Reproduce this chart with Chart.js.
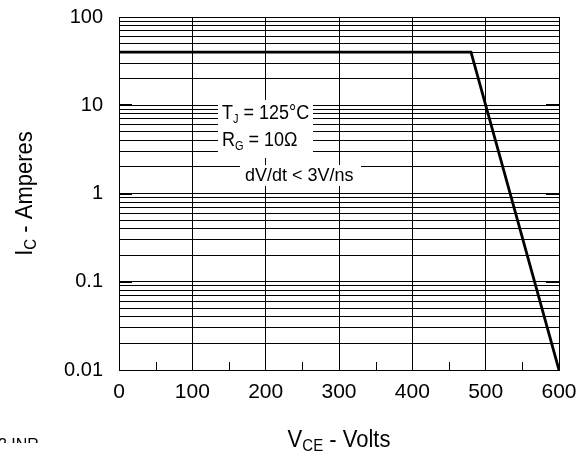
<!DOCTYPE html>
<html>
<head>
<meta charset="utf-8">
<script src="https://cdn.jsdelivr.net/npm/chart.js@4.4.1/dist/chart.umd.min.js"></script>
<style>
html, body { margin:0; padding:0; background:#fff; }
canvas { display:block; }
</style>
</head>
<body>
<canvas id="soa" width="583" height="461"></canvas>
<script>
// reverse bias safe operating area, IC vs VCE
const vceVolts = [0, 480, 600];
const icAmps = [40, 40, 0.01];

const xTickValues = [0, 100, 200, 300, 400, 500, 600];
const xMinorTicks = [50, 150, 250, 350, 450, 550];
const yDecades = [0.01, 0.1, 1, 10, 100];
const yDecadeLabels = ['0.01', '0.1', '1', '10', '100'];

const FONT = "'Liberation Sans', Arial, Helvetica, sans-serif";

// text with subscripts; stretch makes the glyphs a little taller than wide
function drawRich(ctx, parts, x, y, size, subSize, subDrop, align, stretch = 1) {
    let width = 0;
    parts.forEach(p => {
        ctx.font = `${p.sub ? subSize : size}px ${FONT}`;
        width += ctx.measureText(p.text).width;
    });
    let cx = align === 'center' ? -width / 2 : 0;
    ctx.save();
    ctx.translate(x, y);
    ctx.scale(1, stretch);
    ctx.textAlign = 'left';
    ctx.textBaseline = 'alphabetic';
    parts.forEach(p => {
        ctx.font = `${p.sub ? subSize : size}px ${FONT}`;
        ctx.fillText(p.text, cx, p.sub ? subDrop / stretch : 0);
        cx += ctx.measureText(p.text).width;
    });
    ctx.restore();
}

const decorations = {
    id:'decorations',
    beforeDatasetsDraw(chart) {
        const { ctx, chartArea:area, scales:{ x, y } } = chart;
        ctx.save();
        ctx.strokeStyle = '#000';

        // short inward ticks at the half-hundred volt marks
        ctx.lineWidth = 1;
        xMinorTicks.forEach(v => {
            const px = Math.round(x.getPixelForValue(v)) + 0.5;
            ctx.beginPath();
            ctx.moveTo(px, area.bottom);
            ctx.lineTo(px, area.bottom - 8);
            ctx.stroke();
        });

        // heavier decade ticks on both sides
        ctx.lineWidth = 2;
        yDecades.slice(1, -1).forEach(v => {
            const py = Math.round(y.getPixelForValue(v));
            ctx.beginPath();
            ctx.moveTo(area.left, py);
            ctx.lineTo(area.left + 13, py);
            ctx.moveTo(area.right, py);
            ctx.lineTo(area.right - 13, py);
            ctx.stroke();
        });

        // test conditions, set on white over the grid
        ctx.fillStyle = '#fff';
        ctx.fillRect(218, 100, 95, 58);
        ctx.fillRect(240, 165, 121, 21);
        ctx.fillStyle = '#000';
        drawRich(ctx, [{ text:'T' }, { text:'J', sub:true }, { text:' = 125°C' }], 222, 119, 18, 11, 4, 'left', 1.12);
        drawRich(ctx, [{ text:'R' }, { text:'G', sub:true }, { text:' = 10Ω' }], 222, 146, 18, 11, 4, 'left', 1.12);
        drawRich(ctx, [{ text:'dV/dt < 3V/ns' }], 245, 181, 18, 11, 4, 'left', 1.05);
        ctx.restore();
    },
    afterDraw(chart) {
        const { ctx, chartArea:area } = chart;
        ctx.save();
        ctx.fillStyle = '#000';

        drawRich(ctx, [{ text:'V' }, { text:'CE', sub:true }, { text:' - Volts' }],
            (area.left + area.right) / 2, 447, 22, 15, 4, 'center', 1.1);

        ctx.translate(32, (area.top + area.bottom) / 2);
        ctx.rotate(-Math.PI / 2);
        drawRich(ctx, [{ text:'I' }, { text:'C', sub:true }, { text:' - Amperes' }],
            0, 0, 22, 15, 4, 'center', 1.1);
        ctx.restore();

        // figure id, cut off along the lower edge
        ctx.save();
        ctx.beginPath();
        ctx.rect(0, 430, 80, 13);
        ctx.clip();
        ctx.fillStyle = '#000';
        ctx.font = `16px ${FONT}`;
        ctx.textAlign = 'left';
        ctx.textBaseline = 'alphabetic';
        ctx.fillText('2 INR', -2, 450);
        ctx.restore();
    }
};

new Chart(document.getElementById('soa'), {
    type:'line',
    data:{
        datasets:[{
            data:vceVolts.map((v, i) => ({ x:v, y:icAmps[i] })),
            borderColor:'#000',
            borderWidth:2.8,
            pointRadius:0,
            tension:0,
            fill:false
        }]
    },
    options:{
        responsive:false,
        animation:false,
        devicePixelRatio:1,
        layout:{ padding:{ top:17, right:24, left:0, bottom:0 } },
        plugins:{ legend:{ display:false }, tooltip:{ enabled:false } },
        scales:{
            x:{
                type:'linear',
                min:0,
                max:600,
                afterBuildTicks(scale) {
                    scale.ticks = xTickValues.map(v => ({ value:v }));
                },
                afterFit(scale) {
                    scale.height = 91;
                    scale.paddingLeft = 0;
                    scale.paddingRight = 0;
                },
                grid:{ color:'#000', lineWidth:1, drawTicks:false },
                border:{ color:'#000', width:1 },
                ticks:{
                    color:'#000',
                    padding:10,
                    autoSkip:false,
                    maxRotation:0,
                    font:{ family:FONT, size:21 },
                    callback:value => String(value)
                }
            },
            y:{
                type:'logarithmic',
                min:0.01,
                max:100,
                afterBuildTicks(scale) {
                    const ticks = [];
                    yDecades.forEach((d, i) => {
                        if (i === yDecades.length - 1) {
                            ticks.push({ value:d });
                            return;
                        }
                        for (let k = 1; k < 10; k++) ticks.push({ value:Number((d * k).toPrecision(3)) });
                    });
                    scale.ticks = ticks;
                },
                afterFit(scale) {
                    scale.width = 119;
                    scale.paddingTop = 0;
                    scale.paddingBottom = 0;
                },
                grid:{ color:'#000', lineWidth:1, drawTicks:false },
                border:{ color:'#000', width:1 },
                ticks:{
                    color:'#000',
                    padding:16,
                    autoSkip:false,
                    font:{ family:FONT, size:20 },
                    callback:value => {
                        const i = yDecades.indexOf(value);
                        return i >= 0 ? yDecadeLabels[i] : '';
                    }
                }
            }
        }
    },
    plugins:[decorations]
});
</script>
</body>
</html>
